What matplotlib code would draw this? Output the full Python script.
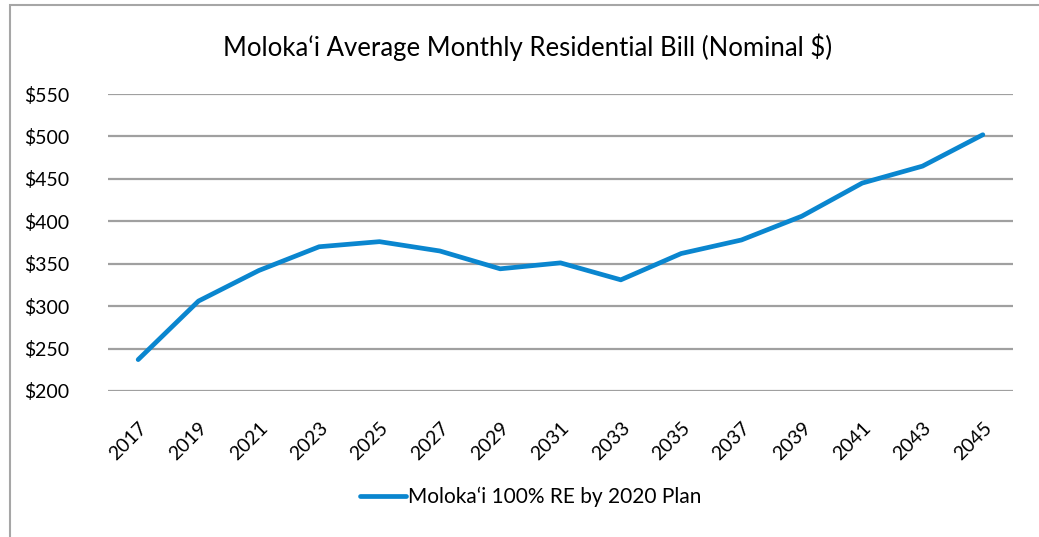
import matplotlib
matplotlib.use("Agg")
import matplotlib.pyplot as plt
from matplotlib.patches import Rectangle
from matplotlib.lines import Line2D

years = ["2017", "2019", "2021", "2023", "2025", "2027", "2029", "2031",
         "2033", "2035", "2037", "2039", "2041", "2043", "2045"]
bill = [237, 306, 342, 370, 376, 365, 344, 351, 331, 362, 378, 406, 445, 465, 502]
yticks = [200, 250, 300, 350, 400, 450, 500, 550]
title = "Moloka\u2018i Average Monthly Residential Bill (Nominal $)"
series_name = "Moloka\u2018i 100% RE by 2020 Plan"

plt.rcParams['font.family'] = ['Lato', 'DejaVu Sans']

W, H = 1039, 537
fig = plt.figure(figsize=(W / 100, H / 100), dpi=100)
fig.patch.set_facecolor('white')

# plot area in pixels
left, right, top, bottom = 108, 1013, 94, 391
ax = fig.add_axes([left / W, 1 - bottom / H, (right - left) / W, (bottom - top) / H])

x = list(range(len(years)))
blue = '#0A86CF'
ax.plot(x, bill, color=blue, lw=3.4, solid_capstyle='round', solid_joinstyle='round', zorder=3)

ax.set_xlim(-0.5, len(years) - 0.5)
ax.set_ylim(200, 550)
ax.set_yticks(yticks)
ax.set_yticklabels([f"${v}" for v in yticks], fontsize=14)
ax.set_xticks(x)
ax.set_xticklabels(years, fontsize=14, rotation=45, ha='right', va='top',
                   rotation_mode='anchor')
ax.tick_params(axis='both', length=0, colors='black')
ax.tick_params(axis='y', pad=28)
ax.tick_params(axis='x', pad=20)
ax.grid(axis='y', color='#A0A0A0', lw=1.6, zorder=1)
ax.set_axisbelow(True)
for s in ax.spines.values():
    s.set_visible(False)

fig.text(528 / W, 1 - 47 / H, title, ha='center', va='center', fontsize=18.5)

# legend
leg_handle = Line2D([], [], color=blue, lw=3.4, solid_capstyle='round')
fig.legend([leg_handle], [series_name], loc='center', bbox_to_anchor=(531 / W, 1 - 497 / H),
           frameon=False, fontsize=15, handlelength=2.2, handletextpad=0.1)

# outer frame
fig.patches.append(Rectangle((10 / W, -0.05), 1.2, 1 - 4.5 / H + 0.05, transform=fig.transFigure,
                             fill=False, edgecolor='#A6A6A6', lw=1.5))

fig.savefig('out.png', dpi=100)
